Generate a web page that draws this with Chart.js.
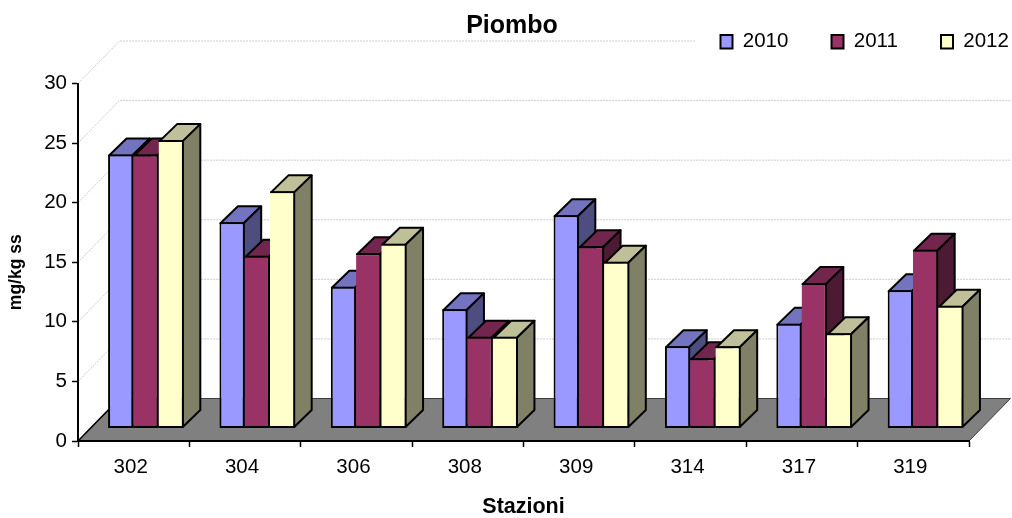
<!DOCTYPE html>
<html>
<head>
<meta charset="utf-8">
<title>Piombo</title>
<style>html,body{margin:0;padding:0;background:#fff}canvas{display:block}</style>
<script src="https://cdn.jsdelivr.net/npm/chart.js@4"></script>
</head>
<body>
<canvas id="c" width="1012" height="518"></canvas>
<script>
const stazioni = ['302','304','306','308','309','314','317','319'];
const v2010 = [23.0,17.3,11.9,10.0,17.9,6.9,8.8,11.6];
const v2011 = [23.0,14.5,14.7,7.7,15.3,5.9,12.2,15.0];
const v2012 = [24.2,19.9,15.5,7.7,14.0,6.9,8.0,10.3];

const FONT = '"Liberation Sans", Arial, sans-serif';
const LW = 2;
const BAR_SHIFT = {x: 12.25, y: -12.5};
const BAR_DEPTH = {x: 17.5, y: -17};
const WALL = {x: 41.5, y: -42.5};
const TOPS = {'#9999FF':'#7373BF','#993366':'#73264D','#FFFFCC':'#BFBF99'};
const SIDES = {'#9999FF':'#4D4D80','#993366':'#4D1A33','#FFFFCC':'#808066'};

function poly(ctx, pts, fill, stroke, lw){
  ctx.beginPath();
  pts.forEach((p,i)=> i ? ctx.lineTo(p[0],p[1]) : ctx.moveTo(p[0],p[1]));
  ctx.closePath();
  if(fill){ctx.fillStyle=fill;ctx.fill();}
  if(stroke){ctx.strokeStyle=stroke;ctx.lineWidth=lw;ctx.lineJoin='round';ctx.stroke();}
}

const scene3d = {
  id:'scene3d',
  beforeLayout(chart){
    const lg = chart.legend;
    if(!lg._fitWrapped){
      const fit = lg.fit;
      lg.fit = function(){ fit.call(this); this.height = 0; };
      lg._fitWrapped = true;
    }
  },
  afterLayout(chart){
    const lg = chart.legend, t = chart.titleBlock;
    const pad = lg.options.labels.padding;
    const w = lg.right - lg.left;
    lg.left = 720.5 - pad; lg.right = lg.left + w;
    lg.top = 31.5 - pad; lg.bottom = 70;
    t.left = 0; t.right = 1024;
    const y = chart.scales.y;
    if(!y._titleShifted){
      const orig = y.drawTitle;
      y.drawTitle = function(){
        this.ctx.save(); this.ctx.translate(0,10); orig.call(this); this.ctx.restore();
      };
      y._titleShifted = true;
    }
  },
  beforeDraw(chart){
    const ctx = chart.ctx, a = chart.chartArea, y = chart.scales.y;
    ctx.save();
    ctx.lineWidth = 1; ctx.strokeStyle = '#cccccc'; ctx.setLineDash([2,1]);
    y.ticks.forEach(t=>{
      if(t.value===0) return;
      const py = y.getPixelForValue(t.value);
      ctx.beginPath();
      ctx.moveTo(a.left,py);
      ctx.lineTo(a.left+WALL.x,py+WALL.y);
      ctx.lineTo(a.right+WALL.x,py+WALL.y);
      ctx.stroke();
    });
    ctx.setLineDash([]);
    ctx.fillStyle='#fff'; ctx.fillRect(696,25,316,30);
    const py0 = y.getPixelForValue(0);
    poly(ctx,[[a.left,py0],[a.right,py0],[a.right+WALL.x,py0+WALL.y],[a.left+WALL.x,py0+WALL.y]],'#808080','#3c3c3c',1);
    ctx.beginPath();ctx.moveTo(a.left,py0);ctx.lineTo(a.left+WALL.x,py0+WALL.y);
    ctx.strokeStyle='#000';ctx.lineWidth=1.6;ctx.stroke();
    ctx.restore();
  },
  beforeDatasetsDraw(chart){
    const ctx = chart.ctx;
    ctx.save();
    ctx.translate(BAR_SHIFT.x,BAR_SHIFT.y);
    chart.data.datasets.forEach((ds,i)=>{
      chart.getDatasetMeta(i).data.forEach(el=>{
        const {x,y,base,width} = el.getProps(['x','y','base','width'],true);
        const h = LW/2, l = x-width/2+h, r = x+width/2-h, t = y+h, b = base-h;
        const dx = BAR_DEPTH.x, dy = BAR_DEPTH.y;
        poly(ctx,[[l,t],[r,t],[r+dx,t+dy],[l+dx,t+dy]],TOPS[ds.backgroundColor],'#000',LW);
        poly(ctx,[[r,t],[r+dx,t+dy],[r+dx,b+dy],[r,b]],SIDES[ds.backgroundColor],'#000',LW);
        el.draw(ctx);
      });
    });
    ctx.restore();
  },
  beforeDatasetDraw(){ return false; }
};

function series(label,data,color,skip){
  return {label,data,backgroundColor:color,borderColor:'#000',borderWidth:LW,
          borderSkipped:skip,categoryPercentage:0.68,barPercentage:1};
}

new Chart(document.getElementById('c'),{
  type:'bar',
  data:{labels:stazioni,datasets:[
    series('2010',v2010,'#9999FF',false),
    series('2011',v2011,'#993366','left'),
    series('2012',v2012,'#FFFFCC','left')
  ]},
  plugins:[scene3d],
  options:{
    responsive:false,animation:false,
    layout:{padding:{left:0,right:43,top:0,bottom:0}},
    plugins:{
      title:{display:true,text:'Piombo',color:'#000',
        font:{family:FONT,size:25,weight:'bold'},padding:{top:11,bottom:42.5}},
      legend:{display:true,position:'top',align:'start',
        labels:{color:'#000',font:{family:FONT,size:20.5},boxWidth:12,boxHeight:13.5,padding:43.15}},
      tooltip:{enabled:false}
    },
    scales:{
      x:{
        afterFit(s){s.height=77;},
        grid:{offset:true,drawOnChartArea:false,tickColor:'#000',tickLength:6,tickWidth:1.5},
        border:{color:'#000',width:2},
        ticks:{color:'#000',font:{family:FONT,size:20.5},padding:8,labelOffset:-3,maxRotation:0},
        title:{display:true,text:'Stazioni',color:'#000',
          font:{family:FONT,size:21.5,weight:'bold'},padding:{top:0,bottom:-2}}
      },
      y:{
        min:0,max:30,
        afterFit(s){s.width=78;},
        grid:{drawOnChartArea:false,tickColor:'#000',tickLength:6,tickWidth:1.5},
        border:{color:'#000',width:2},
        ticks:{stepSize:5,color:'#000',font:{family:FONT,size:20.5},padding:5},
        title:{display:true,text:'mg/kg ss',color:'#000',
          font:{family:FONT,size:17.5,weight:'bold'},padding:{top:5.5,bottom:0}}
      }
    }
  }
});
</script>
</body>
</html>
